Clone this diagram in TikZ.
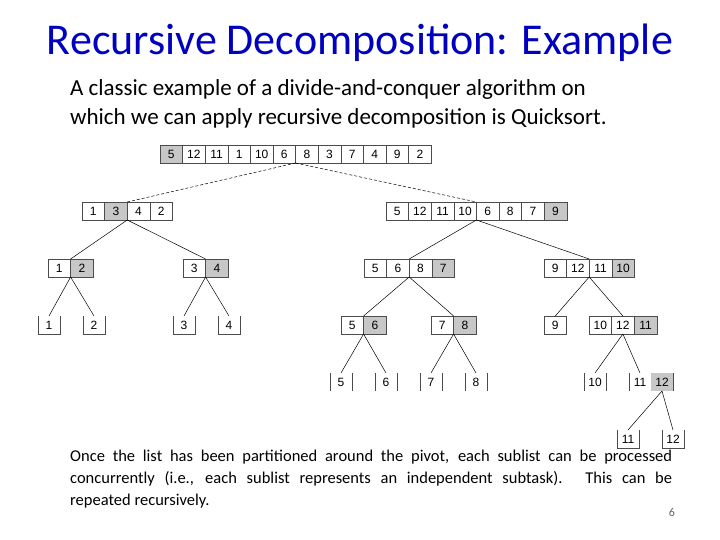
\documentclass[tikz,border=0pt]{standalone}
\usepackage{fontspec}
\setmainfont{Carlito}
\newfontfamily\arial{Liberation Sans}
\tikzset{
 cell/.style={draw=black!70,line width=0.6pt,minimum width=22.6pt,minimum height=18pt,inner sep=0pt,font=\arial\fontsize{12}{12}\selectfont},
 wc/.style={cell,fill=white},
 gc/.style={cell,fill=black!22},
 bar/.style={line width=0.6pt,draw=black!70},
 edge/.style={line width=0.5pt},
 dedge/.style={line width=0.5pt,densely dashed},
 num/.style={font=\arial\fontsize{12}{12}\selectfont,inner sep=0pt}
}
% name, left x, center y, count, list of value/style
\newcommand\arr[5]{%
 \foreach \v/\s [count=\i] in {#5}{\node[\s] (#1-\i) at ({#2+\i*22.6-11.3},#3) {\v};}
 \coordinate (#1t) at ({#2+#4*11.3},{#3-9});
 \coordinate (#1b) at ({#2+#4*11.3},{#3+9});
}
\newcommand\barleaf[4]{%
 \node[num] (#1) at (#2,#3) {#4};
 \draw[bar] ({#2-11},{#3-9}) -- ({#2-11},{#3+9}) ({#2+11},{#3-9}) -- ({#2+11},{#3+9});
 \coordinate (#1t) at (#2,{#3-9});
}
\newcommand\uleaf[4]{%
 \node[num] (#1) at (#2,#3) {#4};
 \draw[bar] ({#2-11},{#3-9}) -- ({#2-11},{#3+9}) -- ({#2+11},{#3+9}) -- ({#2+11},{#3-9});
 \coordinate (#1t) at (#2,{#3-9});
}
\begin{document}
\begin{tikzpicture}[x=1pt,y=-1pt]
\useasboundingbox (0,0) rectangle (720,540);
\node[text=blue!75!black,font=\fontsize{44}{48}\selectfont] (title) at (360,43) {Recursive Decomposition: Example};
\node[anchor=north west,align=left,font=\fontsize{23}{29}\selectfont,inner sep=0pt] (intro) at (70,79) {A classic example of a divide-and-conquer algorithm on\\which we can apply recursive decomposition is Quicksort.};
\arr{a}{160}{154}{12}{5/gc,12/wc,11/wc,1/wc,10/wc,6/wc,8/wc,3/wc,7/wc,4/wc,9/wc,2/wc}
\arr{b}{82}{211}{4}{1/wc,3/gc,4/wc,2/wc}
\arr{c}{386}{211}{8}{5/wc,12/wc,11/wc,10/wc,6/wc,8/wc,7/wc,9/gc}
\arr{d}{48}{268}{2}{1/wc,2/gc}
\arr{e}{183}{268}{2}{3/wc,4/gc}
\arr{f}{364}{268}{4}{5/wc,6/wc,8/wc,7/gc}
\arr{g}{544}{268}{4}{9/wc,12/wc,11/wc,10/gc}
\uleaf{h1}{49}{325}{1}
\uleaf{h2}{94}{325}{2}
\uleaf{h3}{184}{325}{3}
\uleaf{h4}{229}{325}{4}
\arr{i}{341}{325}{2}{5/wc,6/gc}
\arr{j}{431}{325}{2}{7/wc,8/gc}
\arr{k}{544}{325}{1}{9/wc}
\arr{l}{589}{325}{3}{10/wc,12/wc,11/gc}
\barleaf{m1}{341}{382}{5}
\barleaf{m2}{386}{382}{6}
\barleaf{m3}{431}{382}{7}
\barleaf{m4}{476}{382}{8}
\barleaf{m5}{595}{382}{10}
\node[num] (n1) at (640,382) {11};
\node[gc,draw=none] (n2) at (662,382) {12};
\draw[bar] (629,373) -- (629,391) (673,373) -- (673,391);
\coordinate (nt) at (640,373); \coordinate (nb) at (662,391);
\uleaf{p1}{628}{439}{11}
\uleaf{p2}{673}{439}{12}
\draw[dedge] (ab) -- (bt);
\draw[dedge] (ab) -- (ct);
\draw[edge] (bb) -- (dt); \draw[edge] (bb) -- (et);
\draw[edge] (cb) -- (ft); \draw[edge] (cb) -- (gt);
\draw[edge] (db) -- (h1t); \draw[edge] (db) -- (h2t);
\draw[edge] (eb) -- (h3t); \draw[edge] (eb) -- (h4t);
\draw[edge] (fb) -- (it); \draw[edge] (fb) -- (jt);
\draw[edge] (gb) -- (kt); \draw[edge] (gb) -- (lt);
\draw[edge] (ib) -- (m1t); \draw[edge] (ib) -- (m2t);
\draw[edge] (jb) -- (m3t); \draw[edge] (jb) -- (m4t);
\draw[edge] (lb) -- (m5t); \draw[edge] (lb) -- (nt);
\draw[edge] (nb) -- (p1t); \draw[edge] (nb) -- (p2t);
\node[anchor=north west,text width=602pt,align=justify,font=\fontsize{16.5}{22}\selectfont,inner sep=0pt] (outro) at (70,450) {\hyphenpenalty=10000 Once the list has been partitioned around the pivot, each sublist can be processed\linebreak concurrently (i.e., each sublist represents an independent subtask). This can be\linebreak repeated recursively.};
\node[text=black!60,font=\fontsize{12}{12}\selectfont] (pg) at (672,512) {6};
\end{tikzpicture}
\end{document}
